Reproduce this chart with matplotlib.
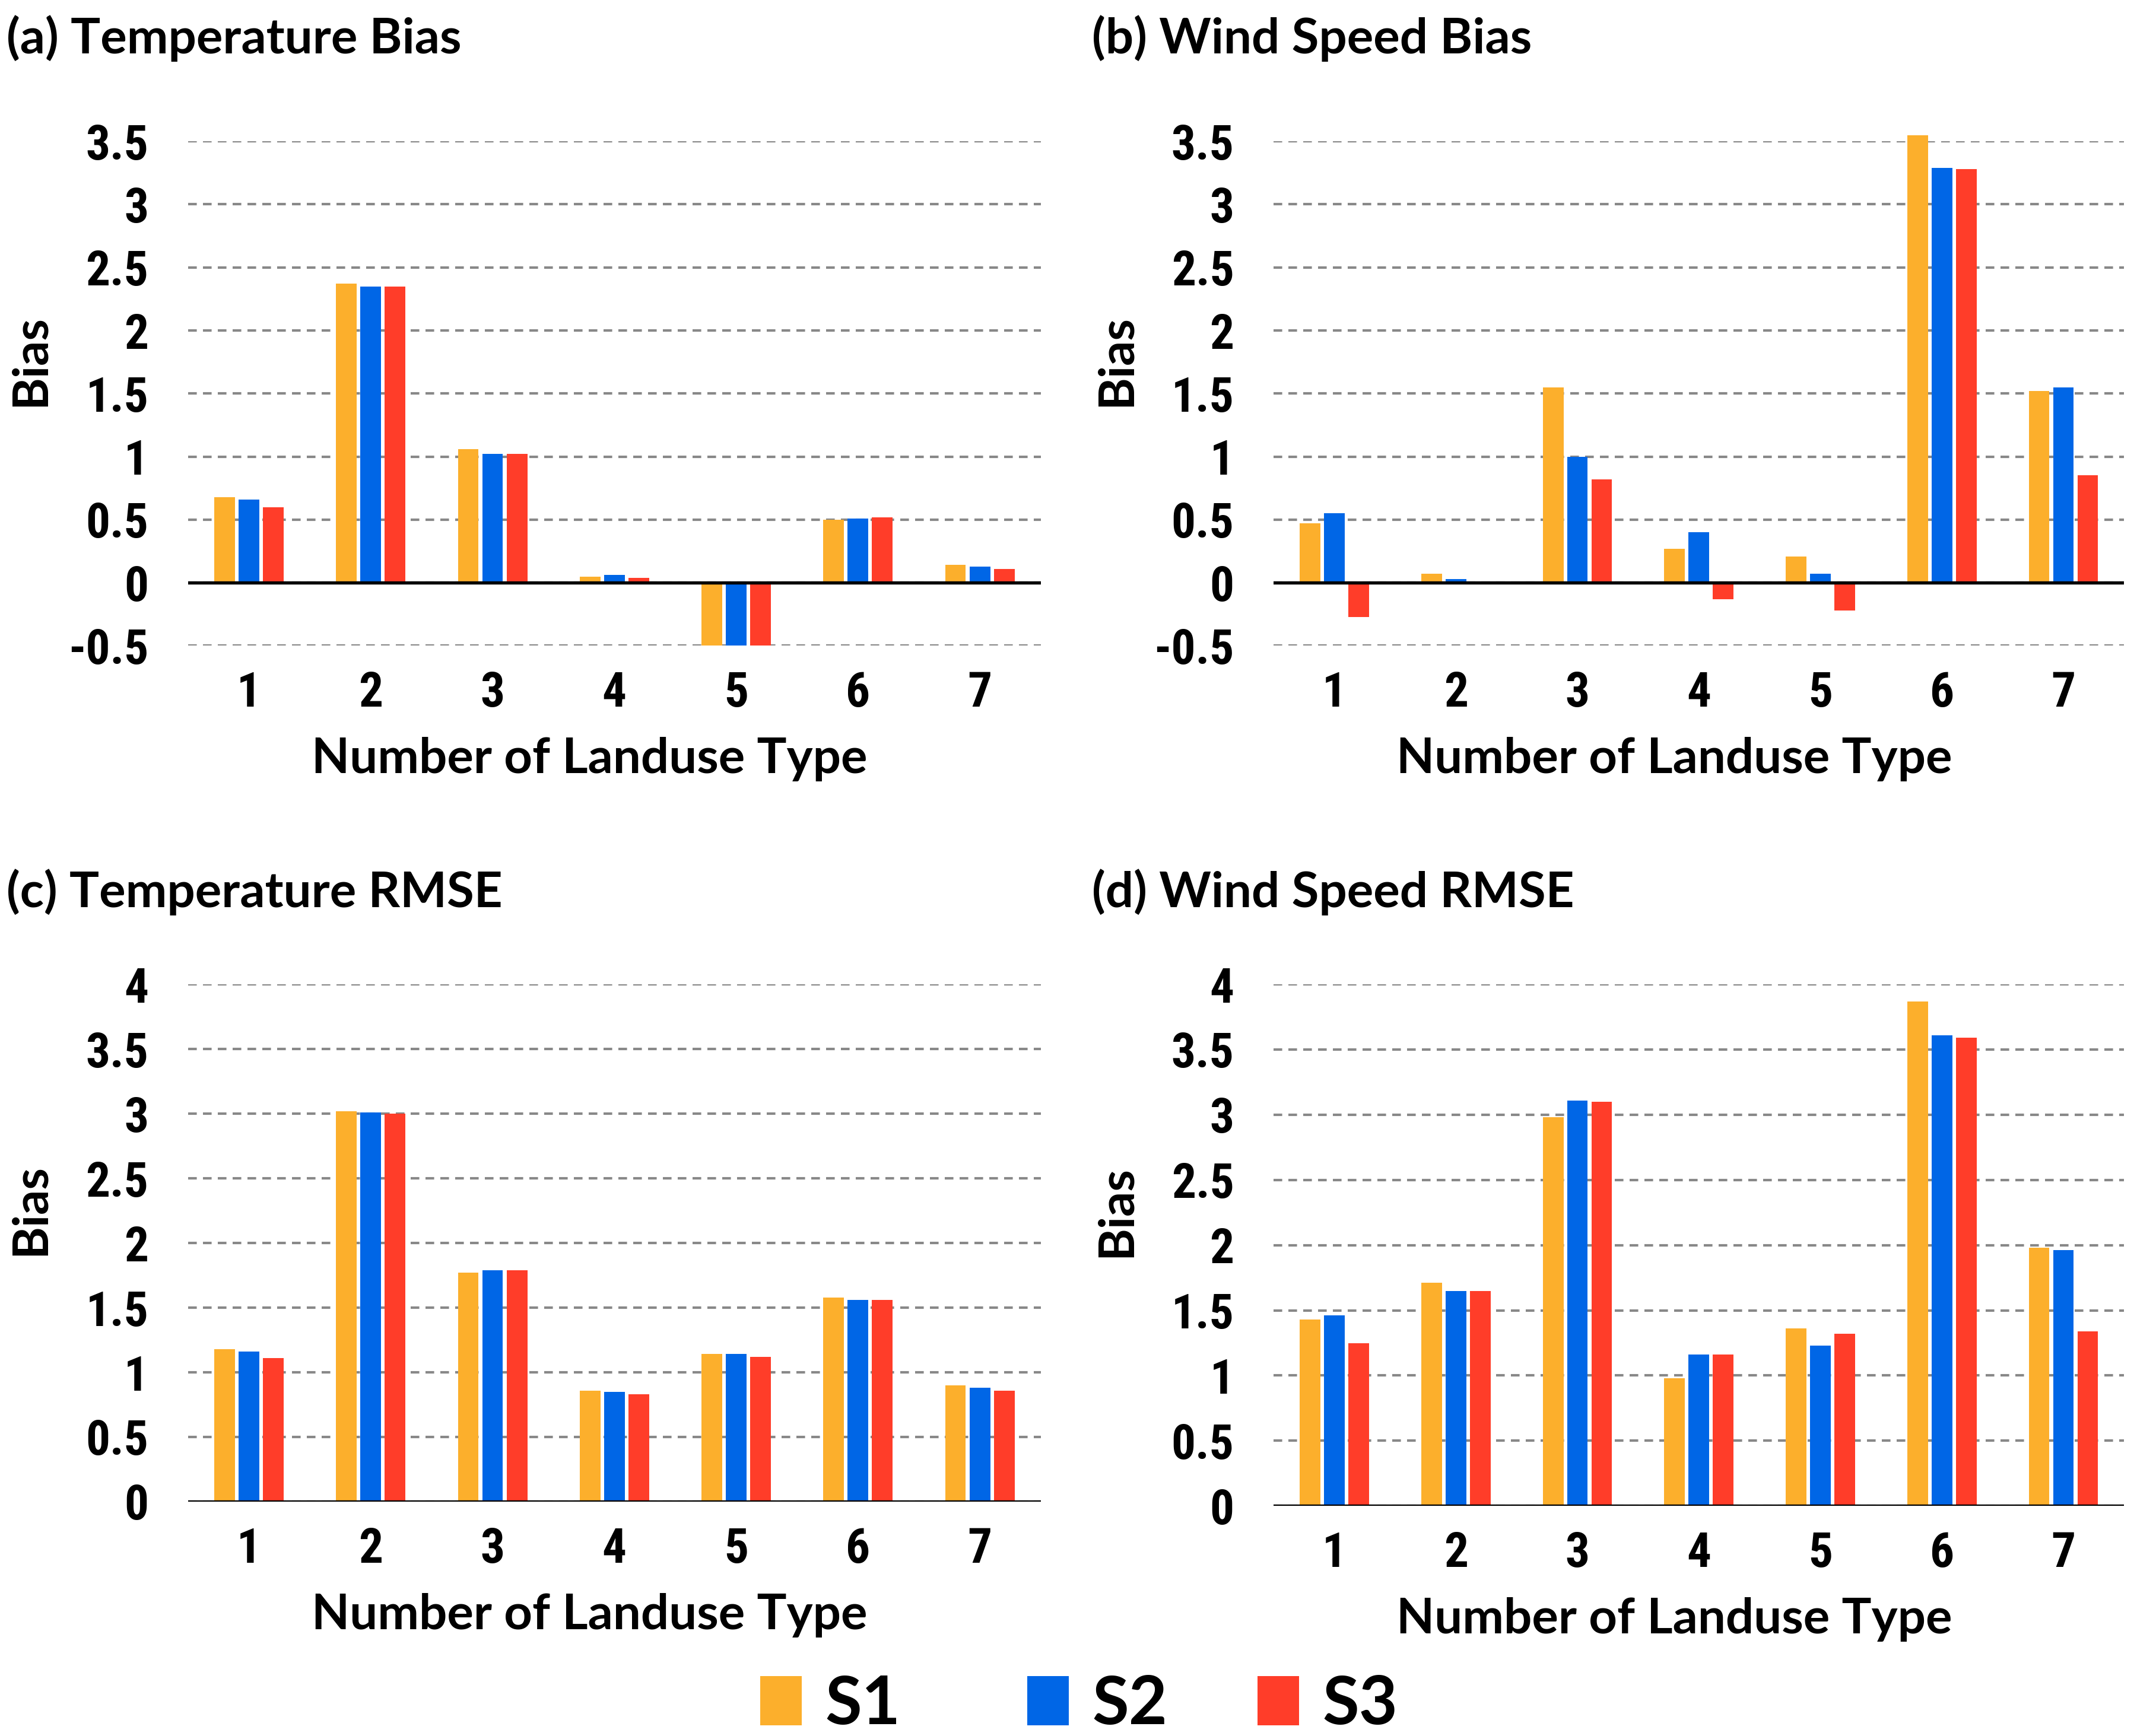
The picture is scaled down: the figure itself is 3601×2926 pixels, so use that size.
import matplotlib
matplotlib.use("Agg")
import matplotlib.pyplot as plt
import numpy as np
from matplotlib.patches import Patch

# landuse types on the x axis
landuse_types = ["1", "2", "3", "4", "5", "6", "7"]
scenarios = ["S1", "S2", "S3"]

# (a) temperature bias
temp_bias_s1 = [0.68, 2.37, 1.06, 0.05, -0.50, 0.50, 0.14]
temp_bias_s2 = [0.66, 2.35, 1.02, 0.06, -0.50, 0.51, 0.13]
temp_bias_s3 = [0.60, 2.35, 1.02, 0.04, -0.50, 0.52, 0.11]

# (b) wind speed bias
wind_bias_s1 = [0.47, 0.07, 1.55, 0.27, 0.21, 3.55, 1.52]
wind_bias_s2 = [0.55, 0.03, 1.00, 0.40, 0.07, 3.29, 1.55]
wind_bias_s3 = [-0.27, 0.00, 0.82, -0.13, -0.22, 3.28, 0.85]

# (c) temperature rmse
temp_rmse_s1 = [1.18, 3.02, 1.77, 0.86, 1.14, 1.58, 0.90]
temp_rmse_s2 = [1.16, 3.01, 1.79, 0.85, 1.14, 1.56, 0.88]
temp_rmse_s3 = [1.11, 3.00, 1.79, 0.83, 1.12, 1.56, 0.86]

# (d) wind speed rmse
wind_rmse_s1 = [1.43, 1.71, 2.98, 0.98, 1.36, 3.87, 1.98]
wind_rmse_s2 = [1.46, 1.65, 3.11, 1.16, 1.23, 3.61, 1.96]
wind_rmse_s3 = [1.25, 1.65, 3.10, 1.16, 1.32, 3.59, 1.34]

colors = ["#FCAF2C", "#0066E6", "#FF3D29"]
tick_font = ["Roboto Condensed", "Liberation Sans Narrow", "DejaVu Sans"]
label_font = ["Lato", "DejaVu Sans"]

fig = plt.figure(figsize=(3601 / 300, 2926 / 300), dpi=300)


def draw_panel(rect, series, title, yticks, ticklabels, title_pos):
    ax = fig.add_axes(rect)
    x = np.arange(len(landuse_types))
    width = 0.17
    offsets = [-0.2, 0.0, 0.2]
    for vals, off, c in zip(series, offsets, colors):
        ax.bar(x + off, vals, width=width, color=c, zorder=2, clip_on=False)
    ax.set_xlim(-0.5, len(landuse_types) - 0.5)
    ax.set_ylim(yticks[0], yticks[-1])
    ax.set_yticks(yticks)
    ax.set_yticklabels(ticklabels, family=tick_font, fontweight="bold",
                       fontstretch="condensed", fontsize=19.5)
    ax.set_xticks(x)
    ax.set_xticklabels(landuse_types, family=tick_font, fontweight="bold",
                       fontstretch="condensed", fontsize=19.5)
    ax.tick_params(axis="y", length=0, pad=16)
    ax.tick_params(axis="x", length=0, pad=10)
    for s in ax.spines.values():
        s.set_visible(False)
    ax.yaxis.grid(True, linestyle=(0, (3.5, 2.5)), color="#888888", linewidth=1.0, zorder=0)
    ax.set_axisbelow(True)
    ax.axhline(0, color="black", linewidth=1.3, zorder=3)
    ax.set_xlabel("Number of Landuse Type", family=label_font, fontweight="bold", fontsize=20)
    ax.xaxis.set_label_coords(0.471, -0.225 * (0.2906 / rect[3]))
    ax.xaxis.label.set_va("center")
    ax.set_ylabel("Bias", family=label_font, fontweight="bold", fontsize=20)
    ax.yaxis.set_label_coords(-0.185, 0.565)
    ax.yaxis.label.set_va("center")
    fig.text(title_pos[0], title_pos[1], title, family=label_font, fontweight="bold",
             fontsize=20, ha="left", va="center")
    return ax


bias_ticks = [-0.5, 0, 0.5, 1, 1.5, 2, 2.5, 3, 3.5]
bias_labels = ["-0.5", "0", "0.5", "1", "1.5", "2", "2.5", "3", "3.5"]
rmse_ticks = [0, 0.5, 1, 1.5, 2, 2.5, 3, 3.5, 4]
rmse_labels = ["0", "0.5", "1", "1.5", "2", "2.5", "3", "3.5", "4"]

draw_panel([0.088, 0.628, 0.399, 0.2906],
           [temp_bias_s1, temp_bias_s2, temp_bias_s3],
           "(a) Temperature Bias", bias_ticks, bias_labels, (0.003, 0.978))
draw_panel([0.596, 0.628, 0.398, 0.2906],
           [wind_bias_s1, wind_bias_s2, wind_bias_s3],
           "(b) Wind Speed Bias", bias_ticks, bias_labels, (0.511, 0.978))
draw_panel([0.088, 0.135, 0.399, 0.298],
           [temp_rmse_s1, temp_rmse_s2, temp_rmse_s3],
           "(c) Temperature RMSE", rmse_ticks, rmse_labels, (0.003, 0.486))
draw_panel([0.596, 0.1325, 0.398, 0.3005],
           [wind_rmse_s1, wind_rmse_s2, wind_rmse_s3],
           "(d) Wind Speed RMSE", rmse_ticks, rmse_labels, (0.511, 0.486))

# one legend per entry, the gaps in the original are not even
legend_x = [0.3558, 0.4808, 0.5885]
for c, s, lx in zip(colors, scenarios, legend_x):
    fig.legend(handles=[Patch(facecolor=c, label=s)], loc="center left",
               bbox_to_anchor=(lx, 0.018), frameon=False, borderpad=0, borderaxespad=0,
               prop={"family": label_font, "weight": "bold", "size": 27},
               handlelength=0.62, handleheight=0.75, handletextpad=0.35)

fig.savefig("out.png", dpi=300)
